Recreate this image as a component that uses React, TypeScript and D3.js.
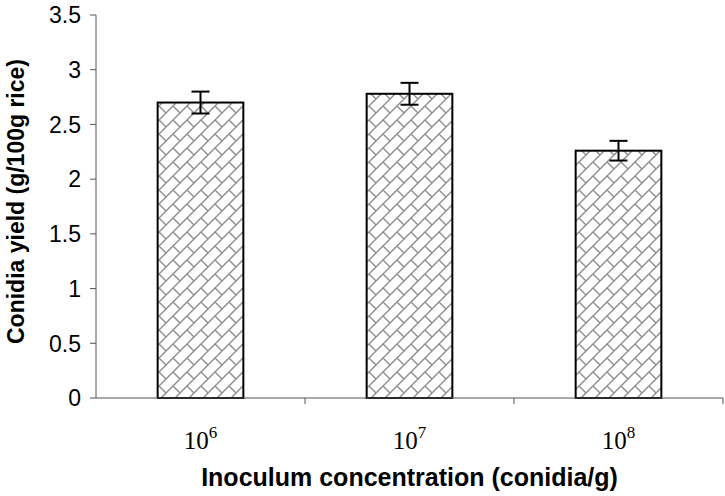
import React from 'react'
import * as d3 from 'd3'

const categories = ['6', '7', '8'] // exponents of 10
const yields = [2.7, 2.78, 2.26]
const errors = [0.1, 0.1, 0.09]
const yTicks = [0, 0.5, 1, 1.5, 2, 2.5, 3, 3.5]

const width = 725
const height = 496
const margin = { top: 15, right: 2, bottom: 98, left: 96 }

export default function App() {
  const w = width - margin.left - margin.right
  const h = height - margin.top - margin.bottom

  const x = d3.scaleBand().domain(categories).range([0, w]).paddingInner(0.59).paddingOuter(0.295)
  const y = d3.scaleLinear().domain([0, 3.5]).range([h, 0])
  const step = x.step()
  const bounds = d3.range(categories.length + 1).map((i) => i * step)

  return (
    <svg width={width} height={height} style={{ position: 'absolute', left: 0, top: 0, background: '#fff' }}>
      <defs>
        <pattern id="brick" width={14} height={14} patternUnits="userSpaceOnUse">
          <rect width={14} height={14} fill="#fff" />
          <path d="M-4,4 L4,-4 M0,14 L14,0 M10,18 L18,10 M7,7 L14,14 M-7,7 L0,14" stroke="#8c8c8c" strokeWidth={1.4} fill="none" />
        </pattern>
      </defs>
      <g transform={`translate(${margin.left},${margin.top})`}>
        {/* y axis */}
        <line x1={0} x2={0} y1={0} y2={h} stroke="#555" strokeWidth={1} />
        {yTicks.map((t) => (
          <g key={t} transform={`translate(0,${y(t)})`}>
            <line x1={-6} x2={0} stroke="#555" />
            <text x={-15} dy="0.36em" textAnchor="end" fontFamily="Liberation Sans, Arial, sans-serif" fontSize={23} fill="#000">
              {t}
            </text>
          </g>
        ))}
        {/* bars */}
        {categories.map((c, i) => {
          const bx = x(c) as number
          const cx = bx + x.bandwidth() / 2
          return (
            <g key={c}>
              <rect x={bx} y={y(yields[i])} width={x.bandwidth()} height={h - y(yields[i])} fill="url(#brick)" stroke="#000" strokeWidth={2} />
              <line x1={cx} x2={cx} y1={y(yields[i] + errors[i])} y2={y(yields[i] - errors[i])} stroke="#000" strokeWidth={2} />
              <line x1={cx - 9} x2={cx + 9} y1={y(yields[i] + errors[i])} y2={y(yields[i] + errors[i])} stroke="#000" strokeWidth={2} />
              <line x1={cx - 9} x2={cx + 9} y1={y(yields[i] - errors[i])} y2={y(yields[i] - errors[i])} stroke="#000" strokeWidth={2} />
              <text x={cx} y={h + 51} textAnchor="middle" fontFamily="Liberation Serif, Times New Roman, serif" fontSize={25} fill="#000">
                10<tspan dy={-11} fontSize={17}>{c}</tspan>
              </text>
            </g>
          )
        })}
        {/* x axis */}
        <line x1={0} x2={w} y1={h} y2={h} stroke="#555" strokeWidth={1} />
        {bounds.slice(1).map((b) => (
          <line key={b} x1={b} x2={b} y1={h} y2={h + 6} stroke="#555" />
        ))}
        <text x={w / 2} y={h + 88} textAnchor="middle" fontFamily="Liberation Sans, Arial, sans-serif" fontWeight="bold" fontSize={25} fill="#000">
          Inoculum concentration (conidia/g)
        </text>
        <text
          transform={`translate(${-72},${h / 2 - 5}) rotate(-90)`}
          textAnchor="middle"
          fontFamily="Liberation Sans, Arial, sans-serif"
          fontWeight="bold"
          fontSize={23}
          fill="#000"
        >
          Conidia yield (g/100g rice)
        </text>
      </g>
    </svg>
  )
}
